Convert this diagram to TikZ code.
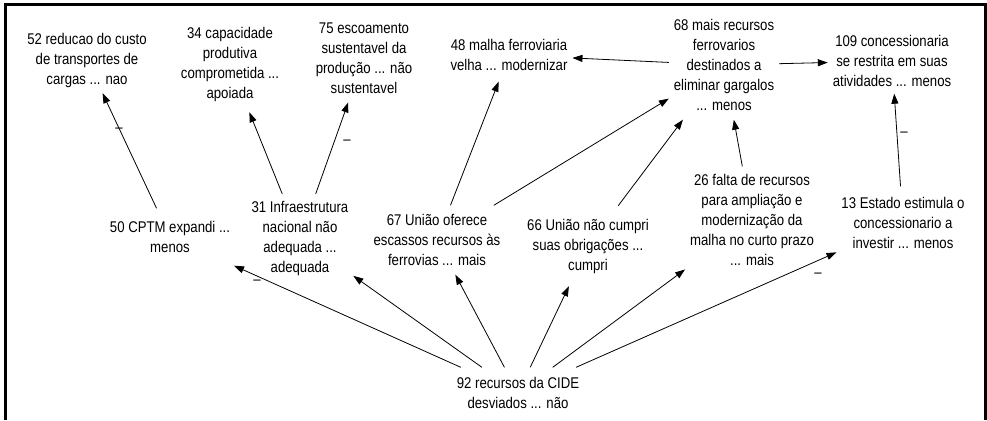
\documentclass[tikz,border=0pt]{standalone}
\usepackage{fontspec}
\setmainfont{Liberation Sans}[FakeStretch=0.85]
\usetikzlibrary{arrows.meta}
\newcommand{\nodefont}{\fontsize{15.5}{20}\selectfont}
\tikzset{
  box/.style={align=center, inner xsep=5pt, inner ysep=9pt, outer sep=0pt, font=\nodefont},
  arr/.style={draw=black, line width=0.8pt, -{Triangle[length=10pt,width=7pt]}},
  lab/.style={inner sep=0pt, anchor=base, font=\nodefont},
  frame/.style={line width=3pt, draw=black}
}
\begin{document}
\begin{tikzpicture}[x=1pt,y=-1pt]
\useasboundingbox (0,0) rectangle (987,420);
\fill[white] (0,0) rectangle (987,420);
\draw[frame] (5,420) -- (5,5) -- (985,5) -- (985,420);

\node[box, inner ysep=6pt] (n52) at (87,60) {52 reducao do custo\\de transportes de\\cargas ... nao};
\node[box, inner ysep=11pt] (n34) at (230,64) {34 capacidade\\produtiva\\comprometida ...\\apoiada};
\node[box] (n75) at (364,58) {75 escoamento\\sustentavel da\\produção ... não\\sustentavel};
\node[box, inner ysep=11pt] (n48) at (509,55) {48 malha ferroviaria\\velha ... modernizar};
\node[box] (n68) at (724,65) {68 mais recursos\\ferrovarios\\destinados a\\eliminar gargalos\\... menos};
\node[box, inner ysep=7pt] (n109) at (892,61) {109 concessionaria\\se restrita em suas\\atividades ... menos};
\node[box, inner ysep=13pt] (n50) at (170,237) {50 CPTM expandi ...\\menos};
\node[box, inner ysep=7pt] (n31) at (300,238) {31 Infraestrutura\\nacional não\\adequada ...\\adequada};
\node[box] (n67) at (437,240) {67 União oferece\\escassos recursos às\\ferrovias ... mais};
\node[box, inner ysep=13pt] (n66) at (588,246) {66 União não cumpri\\suas obrigações ...\\cumpri};
\node[box, inner ysep=8pt] (n26) at (752,220) {26 falta de recursos\\para ampliação e\\modernização da\\malha no curto prazo\\... mais};
\node[box, inner ysep=11pt] (n13) at (903,223) {13 Estado estimula o\\concessionario a\\investir ... menos};
\node[box, inner ysep=10pt] (n92) at (518,393) {92 recursos da CIDE\\desviados ... não};

\draw[arr] (n50) -- (n52);
\draw[arr] (n31) -- (n34);
\draw[arr] (n31) -- (n75);
\draw[arr] (n67) -- (n48);
\draw[arr] (n67) -- (n68);
\draw[arr] (n66) -- (n68);
\draw[arr] (n26) -- (n68);
\draw[arr] (n68) -- (n48);
\draw[arr] (n68) -- (n109);
\draw[arr] (n13) -- (n109);
\draw[arr] (n92) -- (n50);
\draw[arr] (n92) -- (n31);
\draw[arr] (n92) -- (n67);
\draw[arr] (n92) -- (n66);
\draw[arr] (n92) -- (n26);
\draw[arr] (n92) -- (n13);

\node[lab] (l1) at (119,132) {–};
\node[lab] (l2) at (347,144) {–};
\node[lab] (l3) at (904,136) {–};
\node[lab] (l4) at (257,284) {–};
\node[lab] (l5) at (818,277) {–};
\end{tikzpicture}
\end{document}
